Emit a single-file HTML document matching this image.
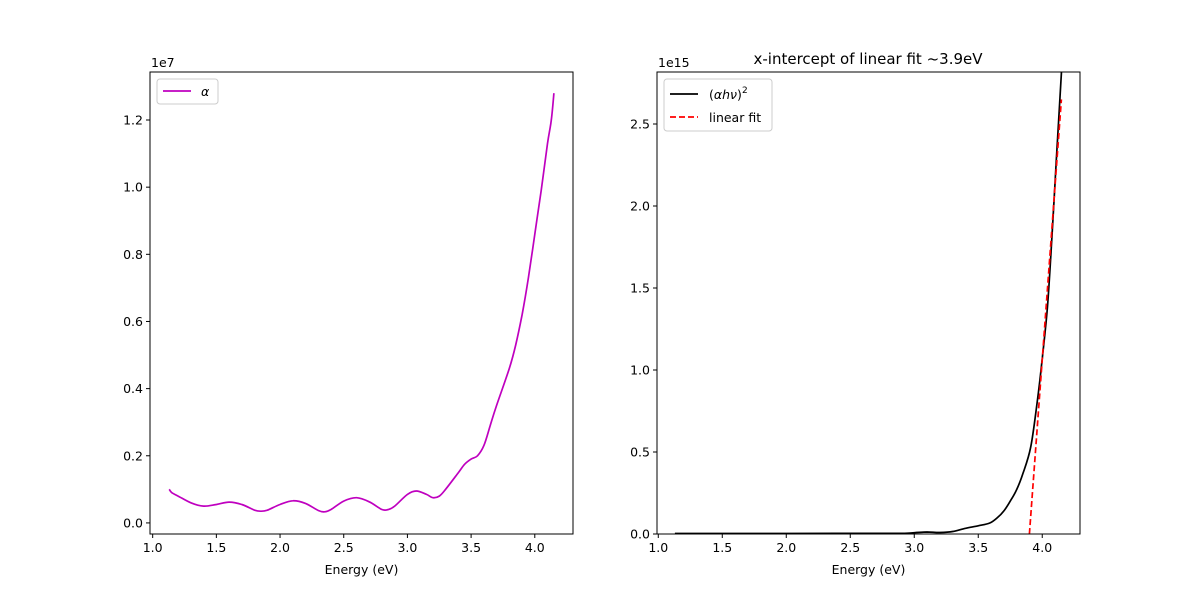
<!DOCTYPE html>
<html><head><meta charset="utf-8"><style>
body{margin:0;background:#fff}
svg text{font-family:"DejaVu Sans","Liberation Sans",sans-serif;font-size:12.5px;fill:#000}
</style></head><body>
<svg id="c" width="1200" height="600" xmlns="http://www.w3.org/2000/svg"></svg>
<script>
const alphaE=[1.13,1.15,1.2,1.3,1.4,1.5,1.6,1.7,1.8,1.85,1.9,2.0,2.1,2.2,2.3,2.35,2.4,2.5,2.6,2.7,2.8,2.85,2.9,3.0,3.07,3.15,3.2,3.25,3.3,3.4,3.45,3.5,3.55,3.6,3.65,3.7,3.8,3.85,3.9,3.95,4.0,4.05,4.1,4.13,4.15];
const alphaV=[0.1,0.09,0.08,0.06,0.05,0.055,0.062,0.055,0.038,0.035,0.038,0.055,0.066,0.058,0.037,0.033,0.04,0.065,0.075,0.063,0.04,0.04,0.05,0.085,0.095,0.085,0.075,0.08,0.1,0.15,0.175,0.19,0.2,0.23,0.29,0.35,0.46,0.53,0.62,0.73,0.86,0.99,1.13,1.2,1.28];
const tE=[1.13,2.0,2.5,2.9,3.0,3.1,3.2,3.3,3.4,3.5,3.59,3.65,3.7,3.75,3.8,3.85,3.91,3.96,3.99,4.04,4.08,4.11,4.15,4.16];
const tV=[0.003,0.003,0.004,0.004,0.008,0.012,0.009,0.015,0.035,0.05,0.067,0.1,0.14,0.2,0.27,0.37,0.53,0.8,1.0,1.38,1.87,2.28,2.81,2.95];
const fitE=[3.9,4.15];
const fitV=[0,2.65];
const xTicks=[1.0,1.5,2.0,2.5,3.0,3.5,4.0];
const yTicksL=[0,0.2,0.4,0.6,0.8,1.0,1.2];
const yTicksR=[0,0.5,1.0,1.5,2.0,2.5];
const svg=document.getElementById('c');const NS='http://www.w3.org/2000/svg';
function mk(t,a,txt){const e=document.createElementNS(NS,t);for(const k in a)e.setAttribute(k,a[k]);if(txt!=null)e.textContent=txt;svg.appendChild(e);return e;}
function panel(L,T,R,B,x0,x1,y0,y1,yt,fmt){
 const sx=v=>L+(v-x0)/(x1-x0)*(R-L), sy=v=>B-(v-y0)/(y1-y0)*(B-T);
 xTicks.forEach(v=>{const x=sx(v);let e=mk('line',{x1:x,x2:x,y1:B,y2:B+4,stroke:'#000'});
 
 e=mk('text',{x:x,y:B+18,'text-anchor':'middle'},v.toFixed(1));
 });
 yt.forEach(v=>{const y=sy(v);let e=mk('line',{x1:L-4,x2:L,y1:y,y2:y,stroke:'#000'});
 
 e=mk('text',{x:L-7,y:y+4.5,'text-anchor':'end'},fmt(v));
 });
 let e=mk('text',{x:(L+R)/2,y:B+40,'text-anchor':'middle'},'Energy (eV)');
 
 return {sx,sy};
}
function line(s,X,Y,attrs,name,smooth){
 const P=X.map((v,i)=>[s.sx(v),s.sy(Y[i])]);
 let d='M'+P[0][0].toFixed(1)+','+P[0][1].toFixed(1);
 for(let i=0;i<P.length-1;i++){
  if(!smooth){d+='L'+P[i+1][0].toFixed(1)+','+P[i+1][1].toFixed(1);continue;}
  const p0=P[Math.max(0,i-1)],p1=P[i],p2=P[i+1],p3=P[Math.min(P.length-1,i+2)];
  const c1=[p1[0]+(p2[0]-p0[0])/6,p1[1]+(p2[1]-p0[1])/6],c2=[p2[0]-(p3[0]-p1[0])/6,p2[1]-(p3[1]-p1[1])/6];
  d+='C'+c1.map(v=>v.toFixed(1))+' '+c2.map(v=>v.toFixed(1))+' '+p2.map(v=>v.toFixed(1));
 }
 const e=mk('path',Object.assign({d:d,fill:'none'},attrs));return e;}
const defs=mk('defs',{});defs.innerHTML='<clipPath id="cr"><rect x="657" y="72" width="423" height="462"/></clipPath>';
const A=panel(150,72,573,534,0.979,4.30,-0.033,1.343,yTicksL,v=>v.toFixed(1));
line(A,alphaE,alphaV,{stroke:'#bf00bf','stroke-width':1.7},'alpha-line',true);
const Bp=panel(657,72,1080,534,0.99,4.295,0,2.817,yTicksR,v=>v.toFixed(1));
line(Bp,tE,tV,{stroke:'#000','stroke-width':1.7,'clip-path':'url(#cr)'},'ahv-squared-line',true);
line(Bp,fitE,fitV,{stroke:'#f00','stroke-width':1.7,'stroke-dasharray':'6,3'},'linear-fit-line',false);
let e=mk('rect',{x:150,y:72,width:423,height:462,fill:'none',stroke:'#000'});
e=mk('rect',{x:657,y:72,width:423,height:462,fill:'none',stroke:'#000'});
e=mk('text',{x:151,y:67},'1e7');
e=mk('text',{x:658,y:67},'1e15');
e=mk('text',{x:868,y:64,'text-anchor':'middle',style:'font-size:15px'},'x-intercept of linear fit ~3.9eV');
e=mk('rect',{x:157,y:79,width:61,height:25,rx:3,fill:'#fff',stroke:'#ccc'});
e=mk('line',{x1:163,x2:191,y1:91,y2:91,stroke:'#bf00bf','stroke-width':1.7});
e=mk('text',{x:201,y:96,'font-style':'italic'},'α');
e=mk('rect',{x:664,y:79,width:108,height:52,rx:3,fill:'#fff',stroke:'#ccc'});
e=mk('line',{x1:670,x2:698,y1:94,y2:94,stroke:'#000','stroke-width':1.7});
e=mk('text',{x:709,y:99});e.innerHTML='(<tspan font-style="italic">αhν</tspan>)<tspan dy="-6" style="font-size:9px">2</tspan>';
e=mk('line',{x1:670,x2:698,y1:117,y2:117,stroke:'#f00','stroke-width':1.7,'stroke-dasharray':'6,3'});
e=mk('text',{x:709,y:122},'linear fit');
</script>
</body></html>
